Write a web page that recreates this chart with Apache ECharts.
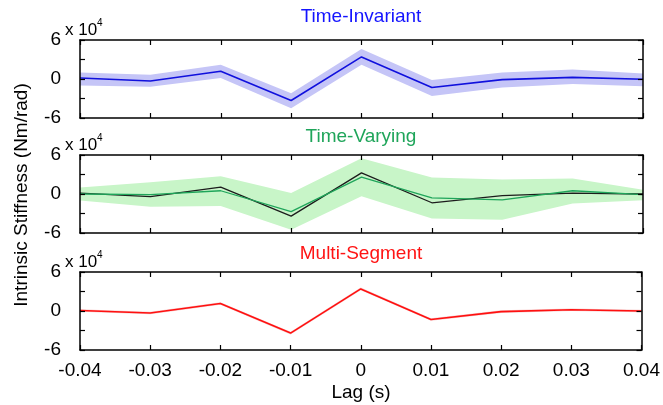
<!DOCTYPE html>
<html>
<head>
<meta charset="utf-8">
<script src="https://cdn.jsdelivr.net/npm/echarts@6/dist/echarts.min.js"></script>
<style>
html,body{margin:0;padding:0;background:#fff;}
#c{width:663px;height:405px;}
</style>
</head>
<body>
<div id="c"></div>
<script>
// ---- data (Nm/rad) ----
const lags = [-0.04, -0.03, -0.02, -0.01, 0, 0.01, 0.02, 0.03, 0.04];
const xTickLabels = ['-0.04', '-0.03', '-0.02', '-0.01', '0', '0.01', '0.02', '0.03', '0.04'];
const yTickValues = [-60000, 0, 60000];
const yTickLabels = ['-6', '0', '6'];

const tiMean  = [1500, -3000, 12000, -33000, 34000, -13000, -1000, 2500, -500];
const tiUpper = [10000, 6500, 22000, -22000, 46000, -1500, 10000, 14500, 8500];
const tiLower = [-10000, -12000, 1500, -45000, 22000, -26000, -13000, -7500, -11000];

const tvMean  = [0, -1000, 5000, -27000, 26000, -6000, -9000, 5000, -1000];
const tvTrue  = [1500, -4000, 10500, -34000, 32500, -13500, -2500, 1500, 0];
const tvUpper = [10000, 18000, 27500, 1500, 55000, 25500, 22500, 24000, 6500];
const tvLower = [-10000, -19500, -18500, -55000, -3500, -37500, -39500, -14500, -9500];

const msMean  = [800, -3000, 11500, -34000, 34000, -13000, -1000, 2000, 0];
const msUpper = [2800, -1000, 13500, -32000, 36000, -11000, 1000, 4000, 2000];
const msLower = [-1200, -5000, 9500, -36000, 32000, -15000, -3000, 0, -2000];

const titles = ['Time-Invariant', 'Time-Varying', 'Multi-Segment'];
const titleColors = ['#1414ff', '#1fa55a', '#ff1414'];

// ---- layout ----
const FONT = 'Liberation Sans, Arial, sans-serif';
const tops = [40, 155, 272];
const H = 78;
const titleY = [17, 137, 254];

const chart = echarts.init(document.getElementById('c'), null, {renderer: 'canvas'});

const grids = [], xAxes = [], yAxes = [], series = [], graphics = [];

function yFmt(v) {
  const i = yTickValues.indexOf(v);
  return i >= 0 ? yTickLabels[i] : '';
}

tops.forEach((t, g) => {
  grids.push({left: 80, right: 20, top: t, height: H, containLabel: false});
  const bottomShow = g === 2;
  xAxes.push({
    type: 'category', gridIndex: g, data: lags, boundaryGap: false, position: 'bottom', z: 10,
    axisLine: {show: true, onZero: false, lineStyle: {color: '#000', width: 1.5}},
    axisTick: {show: true, inside: true, length: 5, interval: 0, lineStyle: {color: '#000', width: 1.2}},
    axisLabel: {show: bottomShow, interval: 0, margin: 11, fontSize: 19, color: '#000', fontFamily: FONT,
      formatter: (v, i) => xTickLabels[i]},
    splitLine: {show: false}
  });
  xAxes.push({
    type: 'category', gridIndex: g, data: lags, boundaryGap: false, position: 'top', z: 10,
    axisLine: {show: true, onZero: false, lineStyle: {color: '#000', width: 1.5}},
    axisTick: {show: true, inside: true, length: 5, interval: 0, lineStyle: {color: '#000', width: 1.2}},
    axisLabel: {show: false}, splitLine: {show: false}
  });
  yAxes.push({
    type: 'value', gridIndex: g, min: -60000, max: 60000, interval: 30000, position: 'left', z: 10,
    axisLine: {show: true, onZero: false, lineStyle: {color: '#000', width: 1.5}},
    axisTick: {show: true, inside: true, length: 5, lineStyle: {color: '#000', width: 1.2}},
    axisLabel: {show: true, margin: 19, fontSize: 19, color: '#000', fontFamily: FONT, formatter: yFmt},
    splitLine: {show: false}
  });
  yAxes.push({
    type: 'value', gridIndex: g, min: -60000, max: 60000, interval: 30000, position: 'right', z: 10,
    axisLine: {show: true, onZero: false, lineStyle: {color: '#000', width: 1.5}},
    axisTick: {show: true, inside: true, length: 5, lineStyle: {color: '#000', width: 1.2}},
    axisLabel: {show: false}, splitLine: {show: false}
  });
  graphics.push({type: 'text', x: 361, y: titleY[g], style: {text: titles[g], fill: titleColors[g],
    font: '19px ' + FONT, textAlign: 'center', textVerticalAlign: 'middle'}});
  graphics.push({type: 'text', x: 65, y: t - 10, style: {text: 'x 10', fill: '#000',
    font: '17px ' + FONT, textAlign: 'left', textVerticalAlign: 'middle'}});
  graphics.push({type: 'text', x: 97, y: t - 17, style: {text: '4', fill: '#000',
    font: '10px ' + FONT, textAlign: 'left', textVerticalAlign: 'middle'}});
});

function band(g, lower, upper, color, name) {
  const xi = g * 2, yi = g * 2;
  series.push({
    type: 'line', xAxisIndex: xi, yAxisIndex: yi, stack: name, stackStrategy: 'all',
    data: lower, symbol: 'none', lineStyle: {opacity: 0}, silent: true, z: 1
  });
  series.push({
    type: 'line', xAxisIndex: xi, yAxisIndex: yi, stack: name, stackStrategy: 'all',
    data: upper.map((u, i) => u - lower[i]), symbol: 'none', lineStyle: {opacity: 0},
    areaStyle: {color: color, opacity: 1}, silent: true, z: 1
  });
}
function line(g, data, color, width) {
  series.push({
    type: 'line', xAxisIndex: g * 2, yAxisIndex: g * 2, data: data, symbol: 'none',
    lineStyle: {color: color, width: width}, silent: true, z: 3
  });
}

band(0, tiLower, tiUpper, '#c5c5f7', 'b0');
line(0, tiMean, '#1010dd', 1.6);

band(1, tvLower, tvUpper, '#c8f5c8', 'b1');
line(1, tvTrue, '#1c1c1c', 1.3);
line(1, tvMean, '#1fa55a', 1.3);

band(2, msLower, msUpper, '#f6cccc', 'b2');
line(2, msMean, '#ff1010', 1.6);

graphics.push({type: 'text', x: 361, y: 393, style: {text: 'Lag (s)', fill: '#000',
  font: '19px ' + FONT, textAlign: 'center', textVerticalAlign: 'middle'}});
graphics.push({type: 'text', x: 22, y: 195, rotation: Math.PI / 2, style: {text: 'Intrinsic Stiffness (Nm/rad)',
  fill: '#000', font: '19px ' + FONT, textAlign: 'center', textVerticalAlign: 'middle'}});

chart.setOption({
  animation: false,
  backgroundColor: '#fff',
  grid: grids,
  xAxis: xAxes,
  yAxis: yAxes,
  series: series,
  graphic: graphics
});
</script>
</body>
</html>
